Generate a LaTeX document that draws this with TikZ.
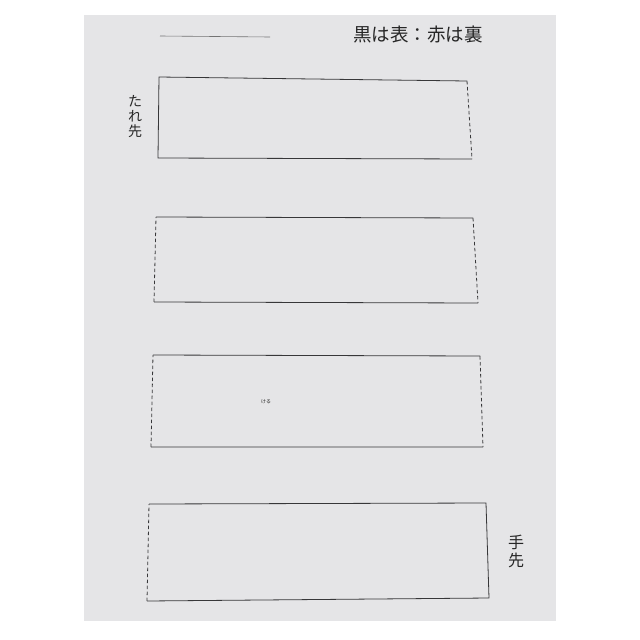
\documentclass[tikz,border=0pt]{standalone}
\usepackage{fontspec}
\newfontfamily\jp{Noto Sans CJK JP}
\definecolor{sheet}{RGB}{229,229,231}
\definecolor{ink}{RGB}{55,55,57}
\begin{document}
\begin{tikzpicture}[x=1pt,y=-1pt,
  solidline/.style={draw=ink, line width=0.8pt},
  dashline/.style={draw=ink, line width=0.8pt, dash pattern=on 3.5pt off 2.5pt},
  jplabel/.style={font=\jp\fontsize{14}{16}\selectfont, text=black!85, inner sep=0pt}]
\useasboundingbox (0,0) rectangle (640,640);
\fill[white] (0,0) rectangle (640,640);
\fill[sheet] (84,15) rectangle (556,621);
% header
\coordinate (hl1) at (160,36);
\coordinate (hl2) at (270,37);
\draw[draw=black!55, line width=0.6pt] (hl1) -- (hl2);
\node[jplabel, font=\jp\fontsize{18.5}{20}\selectfont] (title) at (418,35) {黒は表：赤は裏};
% strip 1
\coordinate (a1) at (159,77); \coordinate (b1) at (467,81);
\coordinate (c1) at (472,159); \coordinate (d1) at (158,158);
\draw[solidline] (c1) -- (d1) -- (a1) -- (b1);
\draw[dashline] (b1) -- (c1);
\node[jplabel, align=center] (tare) at (135,117) {た\\[-1pt]れ\\[-1pt]先};
% strip 2
\coordinate (a2) at (156,217); \coordinate (b2) at (473,218);
\coordinate (c2) at (478,303); \coordinate (d2) at (154,302);
\draw[solidline] (a2) -- (b2) (c2) -- (d2);
\draw[dashline] (b2) -- (c2) (d2) -- (a2);
% strip 3
\coordinate (a3) at (153,355); \coordinate (b3) at (480,356);
\coordinate (c3) at (483,447); \coordinate (d3) at (151,447);
\draw[solidline] (a3) -- (b3) (c3) -- (d3);
\draw[dashline] (b3) -- (c3) (d3) -- (a3);
\node[jplabel, font=\jp\fontsize{5}{5}\selectfont] (mark) at (266,402) {ける};
% strip 4
\coordinate (a4) at (149,504); \coordinate (b4) at (486,503);
\coordinate (c4) at (489,598); \coordinate (d4) at (147,601);
\draw[solidline] (a4) -- (b4) -- (c4) -- (d4);
\draw[dashline] (d4) -- (a4);
\node[jplabel, font=\jp\fontsize{16}{18}\selectfont, align=center] (tesaki) at (516,551) {手\\先};
\end{tikzpicture}
\end{document}
